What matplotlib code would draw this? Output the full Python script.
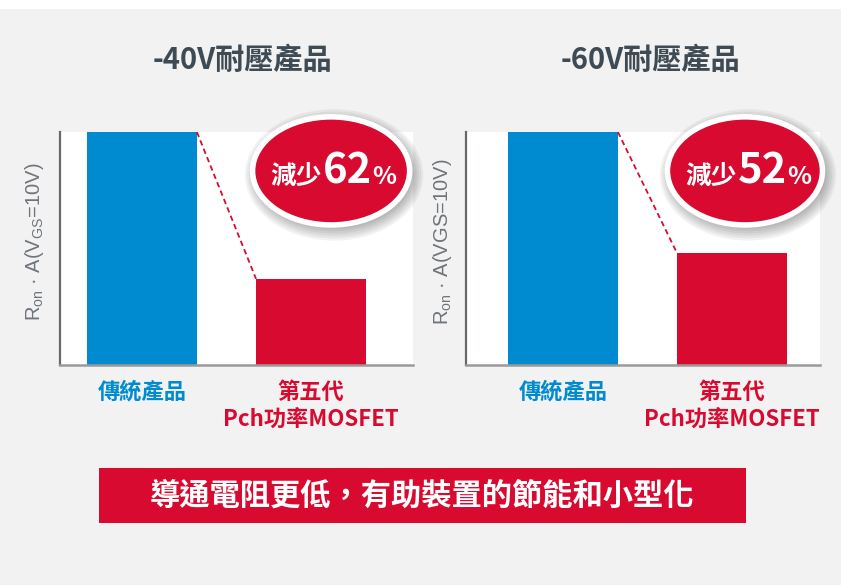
import matplotlib
matplotlib.use("Agg")
import matplotlib.pyplot as plt
from matplotlib.patches import Ellipse, Rectangle
from matplotlib.transforms import offset_copy

plt.rcParams['font.family'] = ['Noto Sans CJK TC', 'DejaVu Sans']
plt.rcParams['mathtext.fontset'] = 'custom'
plt.rcParams['mathtext.rm'] = 'Liberation Sans'

# ---- data ----
panel_titles = ["-40V耐壓產品", "-60V耐壓產品"]
categories = ["傳統產品", "第五代\nPch功率MOSFET"]
values_40v = [1.0, 0.37]
values_60v = [1.0, 0.48]
reductions = ["62", "52"]
ylabels = [r"R$_{\mathregular{on}}$ · A(V$_{\mathregular{GS}}$=10V)",
           r"R$_{\mathregular{on}}$ · A(VGS=10V)"]
banner_text = "導通電阻更低，有助裝置的節能和小型化"

BLUE = "#008bd0"
RED = "#d80a30"
BG = "#f2f2f2"
TITLE_C = "#3e4a54"
GRAY = "#6e747a"

W, H = 841, 585
fig = plt.figure(figsize=(W / 100, H / 100), dpi=100, facecolor=BG)
fig.patches.append(Rectangle((0, 1 - 9 / H), 1, 9 / H, transform=fig.transFigure,
                             facecolor="white", edgecolor="none", zorder=0))

panels = [
    dict(left=60, right=413, xlim=(-0.485, 1.604), vals=values_40v,
         ell=(0.768, 0.833, 0.445, 0.464), title_x=242, ylab_x=35, badge_cx=333),
    dict(left=466, right=820, xlim=(-0.574, 1.521), vals=values_60v,
         ell=(0.788, 0.833, 0.438, 0.464), title_x=650, ylab_x=442, badge_cx=748),
]
top, bottom = 132, 365
bw = 0.65

fig.canvas.draw()
renderer = fig.canvas.get_renderer()

for i, p in enumerate(panels):
    ax = fig.add_axes([p['left'] / W, 1 - bottom / H, (p['right'] - p['left']) / W,
                       (bottom - top) / H])
    ax.set_facecolor("white")
    xs = [0, 1]
    ax.bar(xs, p['vals'], width=bw, color=[BLUE, RED], zorder=2)
    ax.set_xlim(*p['xlim'])
    ax.set_ylim(0, 1)
    ax.set_xticks([])
    ax.set_yticks([])
    for s in ['top', 'right']:
        ax.spines[s].set_visible(False)
    ax.spines['left'].set_color("#666a6e")
    ax.spines['left'].set_linewidth(1.6)
    ax.spines['bottom'].set_color("#9a9a9a")
    ax.spines['bottom'].set_linewidth(1.8)
    # dashed connector
    ax.plot([xs[0] + bw / 2, xs[1] - bw / 2], [p['vals'][0], p['vals'][1]],
            color=RED, ls=(0, (3, 2)), lw=1.3, zorder=3)
    # ylabel
    fig.text(p['ylab_x'] / W, 1 - 242 / H, ylabels[i], rotation=90, ha='center',
             va='center', fontsize=14.5, color=GRAY, family='Liberation Sans')
    # title
    fig.text(p['title_x'] / W, 1 - 60 / H, panel_titles[i], ha='center', va='center',
             fontsize=21, fontweight='bold', color=TITLE_C)
    # category labels
    span = p['xlim'][1] - p['xlim'][0]
    wpx = p['right'] - p['left']
    fig.text((p['left'] + (0 - p['xlim'][0]) / span * wpx) / W, 1 - 392 / H, categories[0],
             ha='center', va='center', fontsize=16, fontweight='bold', color=BLUE)
    fig.text((p['left'] + (1 - p['xlim'][0]) / span * wpx) / W, 1 - 381 / H, categories[1],
             ha='center', va='top', fontsize=16, fontweight='bold', color=RED,
             linespacing=1.2)
    # badge ellipse with shadow
    cx, cy, ew, eh = p['ell']
    for k in range(6):
        sh = Ellipse((cx, cy), ew + 0.012 * k, eh + 0.02 * k, transform=offset_copy(
            ax.transAxes, fig=fig, x=3, y=-4, units='dots'),
            facecolor="#000000", alpha=0.05, edgecolor='none', clip_on=False, zorder=4)
        ax.add_patch(sh)
    el = Ellipse((cx, cy), ew, eh, transform=ax.transAxes, facecolor=RED,
                 edgecolor="white", lw=4, clip_on=False, zorder=5)
    ax.add_patch(el)
    # badge text: measure pieces then lay out centered
    parts = [("減少", 18.5), (reductions[i], 30), ("%", 18)]
    gaps = [1, 0]
    widths = []
    for s, fs in parts:
        t = fig.text(0, 0, s, fontsize=fs, fontweight='bold')
        widths.append(t.get_window_extent(renderer).width)
        t.remove()
    total = sum(widths) + sum(gaps)
    x = p['badge_cx'] - total / 2
    base_y = H - 184
    for j, ((s, fs), w) in enumerate(zip(parts, widths)):
        fig.text(x / W, base_y / H, s, ha='left', va='baseline', fontsize=fs,
                 fontweight='bold', color='white', zorder=6)
        x += w + (gaps[j] if j < len(gaps) else 0)

# banner
fig.patches.append(Rectangle((99 / W, 1 - 523 / H), 647 / W, 55 / H, transform=fig.transFigure,
                             facecolor=RED, edgecolor='none', zorder=1))
fig.text(422 / W, 1 - 496 / H, banner_text, ha='center', va='center', fontsize=21.8,
         fontweight='bold', color='white', zorder=2)

fig.savefig("out.png", dpi=100, facecolor=BG)
